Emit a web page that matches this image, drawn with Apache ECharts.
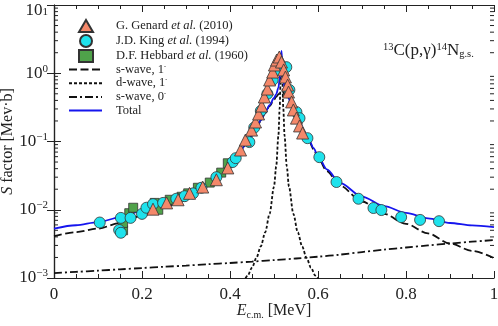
<!DOCTYPE html>
<html><head><meta charset="utf-8">
<script src="https://cdn.jsdelivr.net/npm/echarts@6/dist/echarts.min.js"></script>
<style>html,body{margin:0;padding:0;background:#fff}#c{width:498px;height:326px}</style>
</head><body><div id="c"></div>
<script>
// ---- data ----
const genardE = [0.225,0.256,0.282,0.308,0.338,0.369,0.395,0.424,0.435,0.449,0.458,0.465,0.472,0.478,0.485,0.490,0.497,0.501,0.506,0.512,0.517,0.522,0.526,0.531,0.533,0.540,0.544,0.551,0.558,0.565];
const genardS = [0.0102,0.0126,0.014,0.0174,0.0215,0.0275,0.041,0.075,0.105,0.147,0.193,0.253,0.331,0.449,0.587,0.796,1.04,1.32,1.56,1.73,1.46,1.12,0.88,0.67,0.53,0.38,0.29,0.22,0.169,0.133];

const kingE = [0.104,0.148,0.152,0.152,0.174,0.200,0.210,0.225,0.248,0.278,0.297,0.316,0.335,0.369,0.406,0.413,0.444,0.455,0.470,0.485,0.497,0.508,0.528,0.535,0.551,0.558,0.576,0.603,0.642,0.692,0.726,0.744,0.789,0.832,0.875];
const kingS = [0.0065,0.00505,0.0046,0.0076,0.0076,0.0087,0.0107,0.0121,0.0126,0.0145,0.0158,0.0174,0.021,0.030,0.050,0.057,0.098,0.16,0.28,0.5,0.80,1.12,1.23,0.57,0.27,0.22,0.112,0.059,0.0255,0.0145,0.0106,0.0099,0.0078,0.0071,0.0068];

const hebbardE = [0.157,0.157,0.171,0.180,0.229,0.237,0.263,0.290,0.305,0.327,0.354,0.380,0.395];
const hebbardS = [0.0050,0.0064,0.0089,0.0107,0.0126,0.0100,0.014,0.0155,0.0174,0.021,0.025,0.035,0.048];

const curveE = [0,0.05,0.1,0.15,0.2,0.25,0.3,0.35,0.38,0.4,0.42,0.44,0.46,0.47,0.48,0.49,0.50,0.505,0.51,0.513,0.515,0.517,0.519,0.521,0.524,0.53,0.54,0.55,0.56,0.57,0.58,0.59,0.60,0.62,0.65,0.70,0.75,0.80,0.85,0.90,0.95,1.0];
const sWave1S = [0.0041,0.0047,0.0053,0.0064,0.0082,0.0108,0.0148,0.0222,0.031,0.042,0.065,0.098,0.155,0.2,0.26,0.33,0.41,0.45,0.49,0.51,0.52,0.53,0.53,0.52,0.5,0.44,0.33,0.24,0.175,0.13,0.1,0.077,0.058,0.037,0.0225,0.0132,0.0087,0.0062,0.0045,0.0032,0.0025,0.00196];
const totalS = [0.00528,0.00593,0.00658,0.00774,0.0096,0.01226,0.0163,0.0238,0.0326,0.0437,0.0667,0.1008,0.1588,0.2047,0.2665,0.3405,0.4336,0.495,0.613,0.832,1.322,2.132,1.332,0.842,0.623,0.479,0.344,0.248,0.1805,0.1343,0.1036,0.0802,0.061,0.0391,0.0247,0.0156,0.0113,0.009,0.0075,0.0064,0.0059,0.00556];

const sWave0E = [0,0.05,0.1,0.15,0.2,0.25,0.3,0.35,0.4,0.45,0.5,0.55,0.6,0.65,0.7,0.75,0.8,0.85,0.9,0.95,1.0];
const sWave0S = [0.00118,0.00123,0.00128,0.00134,0.0014,0.00146,0.00152,0.00159,0.00166,0.00174,0.00183,0.00193,0.00205,0.0022,0.0024,0.0026,0.0028,0.003,0.0032,0.0034,0.0036];

const dWaveE = [0.43,0.44,0.45,0.46,0.47,0.48,0.49,0.50,0.505,0.51,0.513,0.515,0.517,0.519,0.521,0.524,0.529,0.534,0.544,0.554,0.564,0.574,0.584,0.594,0.61];
const dWaveS = [0.00085,0.00108,0.00142,0.00197,0.0029,0.00467,0.00873,0.0218,0.0432,0.121,0.32,0.8,1.6,0.8,0.32,0.121,0.0432,0.0218,0.00873,0.00467,0.0029,0.00197,0.00142,0.00108,0.00074];

const yDecades = [0.001,0.01,0.1,1,10];

const markerNames = ['Genard','King','Hebbard'];
const lineNames = ['s1','d','s0','Total'];
const legendLabels = {
  Genard: '{n|G. Genard }{i|et al.}{n| (2010)}',
  King: '{n|J.D. King }{i|et al.}{n| (1994)}',
  Hebbard: '{n|D.F. Hebbard }{i|et al.}{n| (1960)}',
  s1: '{n|s-wave, 1}{sup|-}',
  d: '{n|d-wave, 1}{sup|-}',
  s0: '{n|s-wave, 0}{sup|-}',
  Total: '{n|Total}'
};

// minor log ticks (axis decoration)
const minorY = [];
for (let k = 0; k < yDecades.length - 1; k++) for (let m = 2; m <= 9; m++) minorY.push([0, +(yDecades[k]*m).toPrecision(3)]);

const zip = (a, b) => a.map((v, i) => [v, b[i]]);
const FONT = '"Liberation Serif", "DejaVu Serif", serif';
const INK = '#222';

function yLabel(v) {
  const e = Math.round(Math.log10(v));
  const s = e < 0 ? '−' + Math.abs(e) : String(e);
  if (e === 1) return '{bt|10}{st|' + s + '}';
  return '{b|10}{s|' + s + '}';
}

const legendRich = {
  n: {fontSize: 12.5, fontFamily: FONT, color: INK, lineHeight: 13},
  i: {fontSize: 12.5, fontFamily: FONT, fontStyle: 'italic', color: INK, lineHeight: 13},
  sup: {fontSize: 6, fontFamily: FONT, color: INK, lineHeight: 6, verticalAlign: 'top'}
};

const chart = echarts.init(document.getElementById('c'), null, {renderer: 'canvas'});
const axisCommon = {
  axisLine: {show: true, lineStyle: {color: INK, width: 1.2}},
  splitLine: {show: false}
};
chart.setOption({
  animation: false,
  backgroundColor: '#fff',
  textStyle: {fontFamily: FONT},
  grid: {left: 54, right: 4, top: 5, bottom: 48, containLabel: false, outerBoundsMode: 'none'},
  title: {
    text: '{sup|13}{n|C(p,γ)}{sup|14}{n|N}{sub|g.s.}',
    left: 383, top: 42, padding: 0,
    textStyle: {
      fontFamily: FONT, fontWeight: 'normal', color: INK,
      rich: {
        n: {fontSize: 17, fontFamily: FONT, color: INK, lineHeight: 18, verticalAlign: 'middle'},
        sup: {fontSize: 10.5, fontFamily: FONT, color: INK, lineHeight: 10, verticalAlign: 'top'},
        sub: {fontSize: 10.5, fontFamily: FONT, color: INK, lineHeight: 10, verticalAlign: 'bottom'}
      }
    }
  },
  legend: [{
    orient: 'vertical', left: 78, top: 19, padding: 0,
    itemWidth: 14, itemHeight: 12, itemGap: 1,
    data: markerNames,
    formatter: n => legendLabels[n],
    textStyle: {padding: [0, 0, 0, 18], rich: legendRich}
  }, {
    orient: 'vertical', left: 68, top: 63, padding: 0,
    itemWidth: 33, itemHeight: 12, itemGap: 0.7,
    data: lineNames.map(n => ({name: n, itemStyle: {opacity: 0}})),
    formatter: n => legendLabels[n],
    textStyle: {padding: [0, 0, 0, 9], rich: legendRich}
  }],
  xAxis: [{
    type: 'value', min: 0, max: 1, interval: 0.2, position: 'bottom',
    ...axisCommon,
    axisTick: {show: true, inside: true, length: 7, lineStyle: {color: INK, width: 1}},
    minorTick: {show: true, splitNumber: 4, length: 4, lineStyle: {color: INK, width: 1}},
    axisLabel: {fontSize: 17, fontFamily: FONT, color: INK, margin: 8, formatter: v => String(+v.toFixed(1))},
    name: '{i|E}{sub|c.m.}{n| [MeV]}', nameLocation: 'middle', nameGap: 24, nameMoveOverlap: false,
    nameTextStyle: {rich: {
      i: {fontSize: 16, fontFamily: FONT, fontStyle: 'italic', color: INK, lineHeight: 18, verticalAlign: 'middle'},
      sub: {fontSize: 10, fontFamily: FONT, color: INK, lineHeight: 10, verticalAlign: 'bottom'},
      n: {fontSize: 16, fontFamily: FONT, color: INK, lineHeight: 18, verticalAlign: 'middle'}
    }}
  }, {
    type: 'value', min: 0, max: 1, interval: 0.2, position: 'top',
    ...axisCommon,
    axisTick: {show: true, inside: true, length: 7, lineStyle: {color: INK, width: 1}},
    minorTick: {show: true, splitNumber: 4, length: 4, lineStyle: {color: INK, width: 1}},
    axisLabel: {show: false}
  }],
  yAxis: [{
    type: 'log', logBase: 10, min: 0.001, max: 10, position: 'left',
    ...axisCommon,
    axisTick: {show: true, inside: true, length: 7, lineStyle: {color: INK, width: 1}},
    axisLabel: {formatter: yLabel, margin: 6, rich: {
      b: {fontSize: 17, fontFamily: FONT, color: INK, lineHeight: 20, verticalAlign: 'middle'},
      s: {fontSize: 11, fontFamily: FONT, color: INK, lineHeight: 12, verticalAlign: 'top'},
      bt: {fontSize: 17, fontFamily: FONT, color: INK, lineHeight: 20, padding: [12, 0, 0, 0]},
      st: {fontSize: 11, fontFamily: FONT, color: INK, lineHeight: 12, verticalAlign: 'top', padding: [12, 0, 0, 0]}
    }},
    name: '{i|S}{n| factor [Mev·b]}', nameLocation: 'middle', nameGap: 38, nameRotate: 90, nameMoveOverlap: false,
    nameTextStyle: {rich: {
      i: {fontSize: 16, fontFamily: FONT, fontStyle: 'italic', color: INK},
      n: {fontSize: 16, fontFamily: FONT, color: INK}
    }}
  }, {
    type: 'log', logBase: 10, min: 0.001, max: 10, position: 'right',
    ...axisCommon,
    axisTick: {show: true, inside: true, length: 7, lineStyle: {color: INK, width: 1}},
    axisLabel: {show: false}
  }],
  series: [
    {name: 'minor', type: 'custom', silent: true, clip: false, z: 1,
     data: minorY,
     renderItem: (params, api) => {
       const v = api.value(1);
       const l = api.coord([0, v]);
       const r = api.coord([1, v]);
       return {type: 'group', children: [
         {type: 'line', shape: {x1: l[0], y1: l[1], x2: l[0] + 4, y2: l[1]}, style: {stroke: INK, lineWidth: 1}},
         {type: 'line', shape: {x1: r[0] - 4, y1: r[1], x2: r[0], y2: r[1]}, style: {stroke: INK, lineWidth: 1}}
       ]};
     }},
    {name: 's1', type: 'line', data: zip(curveE, sWave1S), symbol: 'none', smooth: 0.3, smoothMonotone: 'x', z: 2,
     lineStyle: {color: '#111', width: 1.8, type: [8, 3.5]}, itemStyle: {color: '#111'}},
    {name: 'd', type: 'line', data: zip(dWaveE, dWaveS), symbol: 'none', smooth: 0.3, smoothMonotone: 'x', z: 2,
     lineStyle: {color: '#111', width: 1.8, type: [3, 2]}, itemStyle: {color: '#111'}},
    {name: 's0', type: 'line', data: zip(sWave0E, sWave0S), symbol: 'none', smooth: 0.3, z: 2,
     lineStyle: {color: '#111', width: 1.8, type: [8, 3, 2, 3]}, itemStyle: {color: '#111'}},
    {name: 'Total', type: 'line', data: zip(curveE, totalS), symbol: 'none', smooth: 0.3, smoothMonotone: 'x', z: 3,
     lineStyle: {color: '#1515EE', width: 1.8}, itemStyle: {color: '#1515EE'}},
    {name: 'Hebbard', type: 'scatter', data: zip(hebbardE, hebbardS), symbol: 'rect', symbolSize: 9, z: 4,
     itemStyle: {color: '#4FA24A', borderColor: '#333', borderWidth: 0.8, opacity: 1}},
    {name: 'King', type: 'scatter', data: zip(kingE, kingS), symbol: 'circle', symbolSize: 11, z: 5,
     itemStyle: {color: '#1EE2EC', borderColor: '#333', borderWidth: 0.8, opacity: 1}},
    {name: 'Genard', type: 'scatter', data: zip(genardE, genardS), symbol: 'triangle', symbolSize: 12, z: 6,
     itemStyle: {color: '#F4886A', borderColor: '#333', borderWidth: 0.8, opacity: 1}}
  ]
});
</script></body></html>
